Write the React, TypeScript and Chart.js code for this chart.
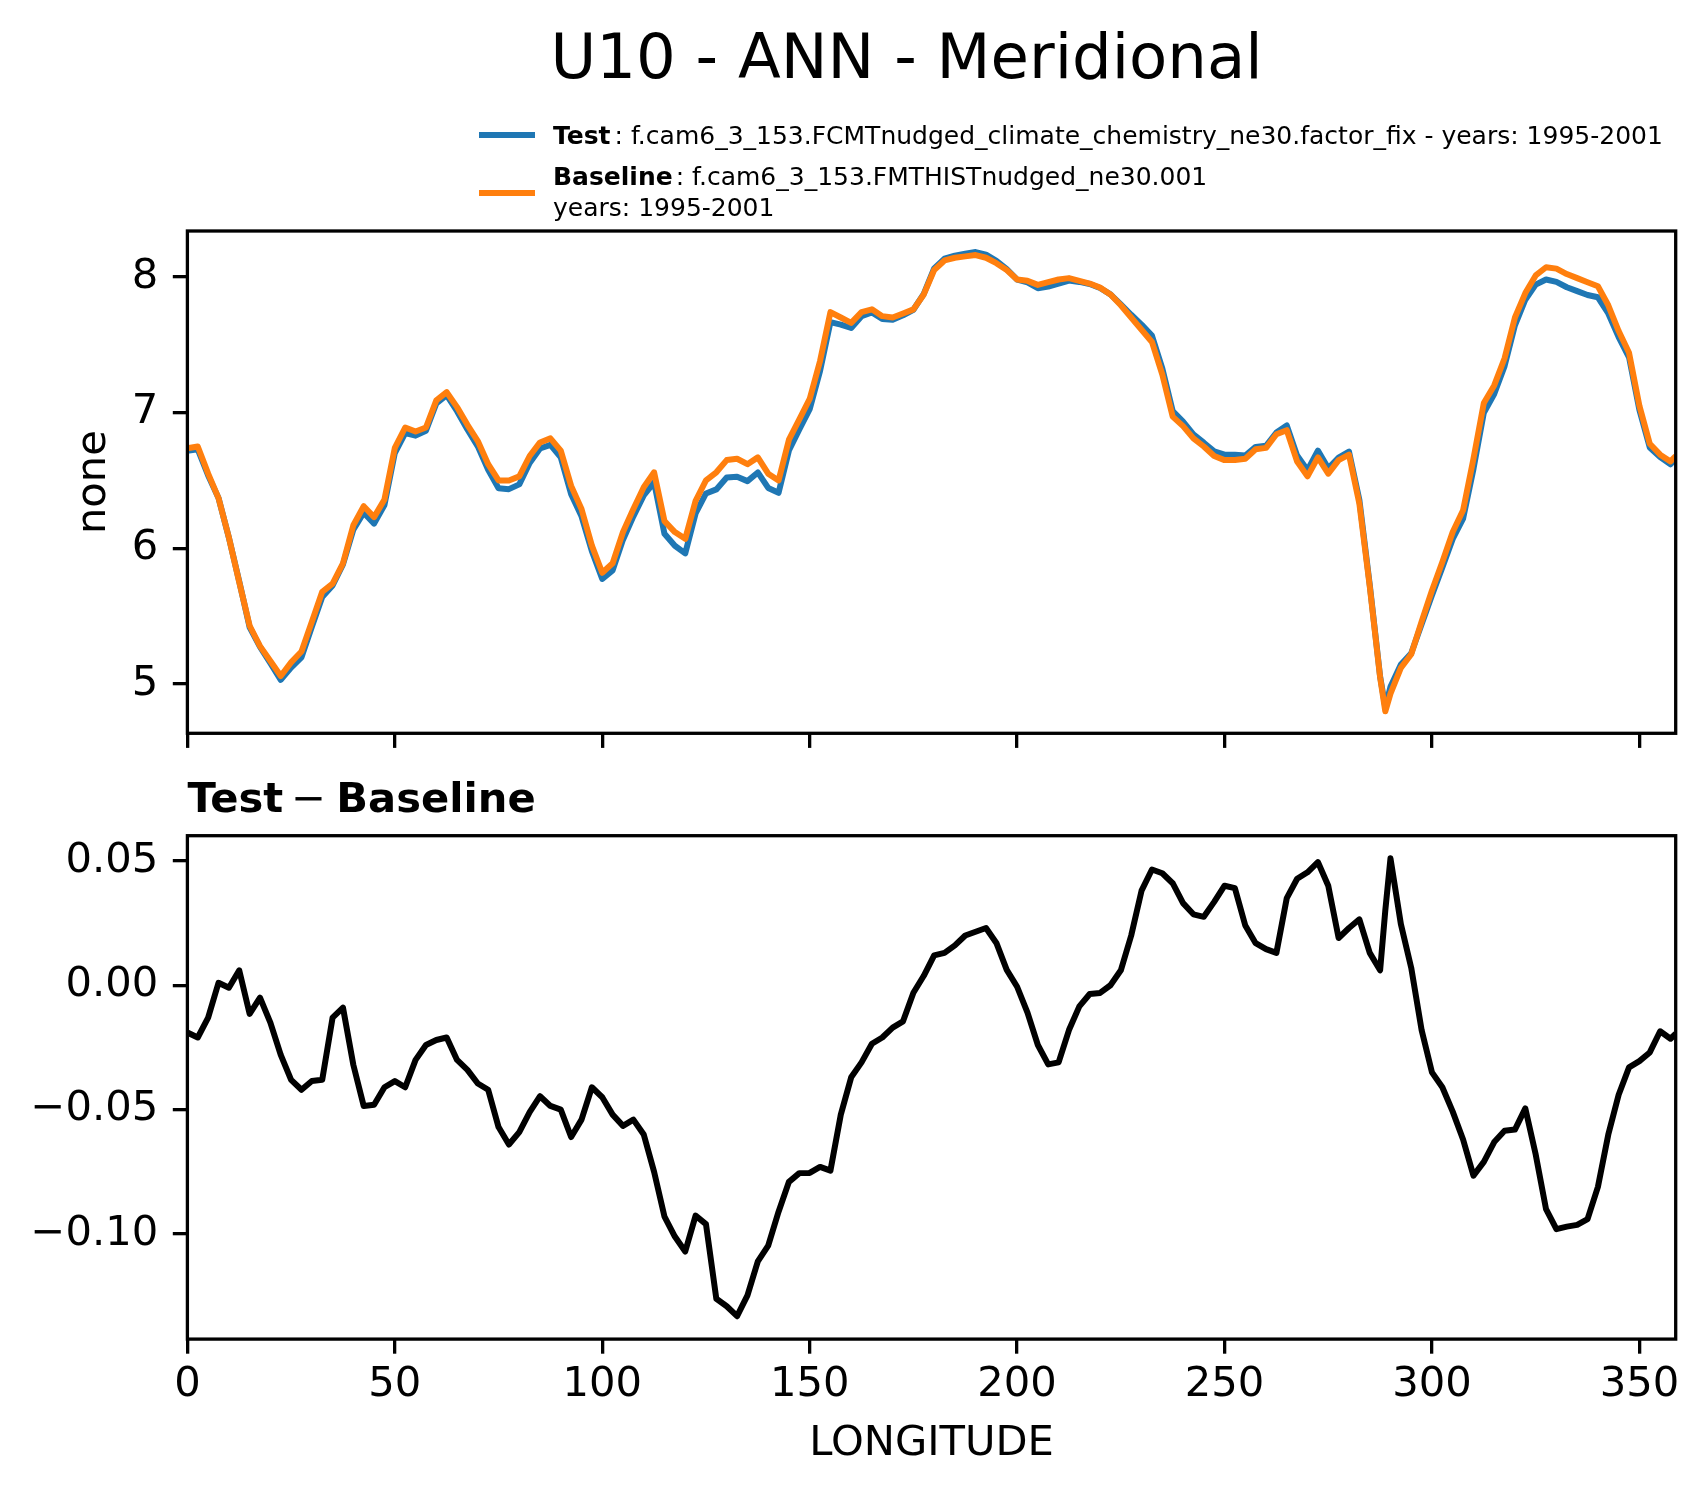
import React, { useEffect, useRef } from "react";
import { Chart, registerables } from "chart.js";

Chart.register(...registerables);

const FONT = '"DejaVu Sans", "Liberation Sans", sans-serif';

// ---------------- data ----------------
const lon = [
  0, 2.5, 5, 7.5, 10, 12.5, 15, 17.5, 20, 22.5,
  25, 27.5, 30, 32.5, 35, 37.5, 40, 42.5, 45, 47.5,
  50, 52.5, 55, 57.5, 60, 62.5, 65, 67.5, 70, 72.5,
  75, 77.5, 80, 82.5, 85, 87.5, 90, 92.5, 95, 97.5,
  100, 102.5, 105, 107.5, 110, 112.5, 115, 117.5, 120, 122.5,
  125, 127.5, 130, 132.5, 135, 137.5, 140, 142.5, 145, 147.5,
  150, 152.5, 155, 157.5, 160, 162.5, 165, 167.5, 170, 172.5,
  175, 177.5, 180, 182.5, 185, 187.5, 190, 192.5, 195, 197.5,
  200, 202.5, 205, 207.5, 210, 212.5, 215, 217.5, 220, 222.5,
  225, 227.5, 230, 232.5, 235, 237.5, 240, 242.5, 245, 247.5,
  250, 252.5, 255, 257.5, 260, 262.5, 265, 267.5, 270, 272.5,
  275, 277.5, 280, 282.5, 285, 287.5, 288.75, 290, 292.5, 295, 297.5,
  300, 302.5, 305, 307.5, 310, 312.5, 315, 317.5, 320, 322.5,
  325, 327.5, 330, 332.5, 335, 337.5, 340, 342.5, 345, 347.5,
  350, 352.5, 355, 357.5, 358.75,
];

const testValues = [
  6.718, 6.729, 6.537, 6.371, 6.079, 5.756, 5.419, 5.275, 5.155, 5.032,
  5.122, 5.198, 5.422, 5.642, 5.727, 5.881, 6.138, 6.262, 6.182, 6.319,
  6.702, 6.849, 6.83, 6.866, 7.068, 7.129, 7.01, 6.876, 6.751, 6.578,
  6.443, 6.436, 6.471, 6.629, 6.735, 6.762, 6.67, 6.399, 6.236, 5.979,
  5.775, 5.838, 6.064, 6.236, 6.39, 6.485, 6.107, 6.019, 5.963, 6.257,
  6.404, 6.434, 6.521, 6.527, 6.495, 6.559, 6.445, 6.409, 6.721, 6.875,
  7.025, 7.307, 7.666, 7.648, 7.623, 7.709, 7.737, 7.689, 7.683, 7.716,
  7.757, 7.874, 8.062, 8.133, 8.156, 8.17, 8.182, 8.163, 8.117, 8.056,
  7.979, 7.959, 7.916, 7.928, 7.949, 7.972, 7.962, 7.947, 7.917, 7.87,
  7.796, 7.72, 7.648, 7.567, 7.325, 7.011, 6.933, 6.839, 6.778, 6.714,
  6.69, 6.689, 6.684, 6.747, 6.755, 6.853, 6.905, 6.683, 6.575, 6.72,
  6.59, 6.669, 6.713, 6.357, 5.733, 5.056, 4.83, 4.981, 5.145, 5.227, 5.442,
  5.655, 5.859, 6.069, 6.218, 6.584, 6.999, 7.137, 7.342, 7.642, 7.831,
  7.942, 7.98, 7.962, 7.923, 7.894, 7.866, 7.849, 7.73, 7.556, 7.407,
  7.02, 6.743, 6.672, 6.619, 6.661,
];

const baselineValues = [
  6.737, 6.75, 6.55, 6.37, 6.08, 5.75, 5.43, 5.28, 5.17, 5.06,
  5.16, 5.24, 5.46, 5.68, 5.74, 5.89, 6.17, 6.31, 6.23, 6.36,
  6.74, 6.89, 6.86, 6.89, 7.09, 7.15, 7.04, 6.91, 6.79, 6.62,
  6.5, 6.5, 6.53, 6.68, 6.78, 6.81, 6.72, 6.46, 6.29, 6.02,
  5.82, 5.89, 6.12, 6.29, 6.45, 6.56, 6.2, 6.12, 6.07, 6.35,
  6.5, 6.56, 6.65, 6.66, 6.62, 6.67, 6.55, 6.5, 6.8, 6.95,
  7.1, 7.38, 7.74, 7.7, 7.66, 7.74, 7.76, 7.71, 7.7, 7.73,
  7.76, 7.87, 8.05, 8.12, 8.14, 8.15, 8.16, 8.14, 8.1, 8.05,
  7.98, 7.97, 7.94, 7.96, 7.98, 7.99, 7.97, 7.95, 7.92, 7.87,
  7.79, 7.7, 7.61, 7.52, 7.28, 6.97, 6.9, 6.81, 6.75, 6.68,
  6.65, 6.65, 6.66, 6.73, 6.74, 6.84, 6.87, 6.64, 6.53, 6.67,
  6.55, 6.65, 6.69, 6.33, 5.72, 5.05, 4.8, 4.93, 5.12, 5.22, 5.46,
  5.69, 5.9, 6.12, 6.28, 6.66, 7.07, 7.2, 7.4, 7.7, 7.88,
  8.01, 8.07, 8.06, 8.02, 7.99, 7.96, 7.93, 7.79, 7.6, 7.44,
  7.05, 6.77, 6.69, 6.64, 6.68,
];

const diffValues = [
  -0.019, -0.021, -0.013, 0.001, -0.001, 0.006, -0.0115, -0.005, -0.015, -0.028,
  -0.038, -0.042, -0.0385, -0.038, -0.013, -0.009, -0.032, -0.0485, -0.048, -0.041,
  -0.0385, -0.041, -0.03, -0.024, -0.022, -0.021, -0.03, -0.034, -0.0395, -0.042,
  -0.057, -0.064, -0.059, -0.051, -0.0446, -0.0485, -0.05, -0.061, -0.054, -0.041,
  -0.045, -0.052, -0.0565, -0.054, -0.06, -0.075, -0.093, -0.101, -0.107, -0.0926,
  -0.096, -0.126, -0.129, -0.133, -0.1246, -0.111, -0.1046, -0.091, -0.079, -0.0755,
  -0.0754, -0.073, -0.0745, -0.052, -0.037, -0.031, -0.0235, -0.021, -0.017, -0.0145,
  -0.003, 0.0038, 0.012, 0.013, 0.016, 0.02, 0.0215, 0.023, 0.017, 0.0062,
  -0.0006, -0.011, -0.024, -0.0318, -0.031, -0.018, -0.0085, -0.0035, -0.0031, 0.0,
  0.006, 0.02, 0.038, 0.0465, 0.045, 0.041, 0.033, 0.0285, 0.0275, 0.0335,
  0.04, 0.039, 0.024, 0.0169, 0.0145, 0.013, 0.035, 0.0428, 0.0454, 0.0495,
  0.04, 0.019, 0.023, 0.0265, 0.013, 0.006, 0.03, 0.051, 0.0246, 0.007, -0.018,
  -0.035, -0.041, -0.0508, -0.062, -0.0765, -0.071, -0.063, -0.0585, -0.058, -0.0495,
  -0.068, -0.09, -0.098, -0.097, -0.0963, -0.094, -0.081, -0.06, -0.044, -0.033,
  -0.0305, -0.027, -0.0185, -0.0215, -0.0195,
];

const xTickValues = [0, 50, 100, 150, 200, 250, 300, 350];
const topYTickValues = [5, 6, 7, 8];
const diffYTickValues = [-0.1, -0.05, 0, 0.05];

const TITLE = "U10 - ANN - Meridional";
const TEST_LABEL = "Test";
const TEST_DESC = ": f.cam6_3_153.FCMTnudged_climate_chemistry_ne30.factor_fix - years: 1995-2001";
const BASE_LABEL = "Baseline";
const BASE_DESC = ": f.cam6_3_153.FMTHISTnudged_ne30.001";
const BASE_YEARS = "years: 1995-2001";
const DIFF_LEFT = "Test";
const DIFF_MINUS = "\u2212";
const DIFF_RIGHT = "Baseline";
const X_TITLE = "LONGITUDE";
const Y_TITLE = "none";

const TEST_COLOR = "#1f77b4";
const BASE_COLOR = "#ff7f0e";

// ---------------- layout constants ----------------
const W = 1708;
const TOP_H = 790;
const BOT_TOP = 765;
const BOT_H = 1496 - BOT_TOP;
const AX_LEFT = 187.4;
const AX_RIGHT = 1675.7;
const TOP_AX_TOP = 231;
const TOP_AX_BOTTOM = 733.3;
const BOT_AX_TOP = 835.7 - BOT_TOP;
const BOT_AX_BOTTOM = 1339.1 - BOT_TOP;
const BOT_X_H = 130;
const TICK_LEN = 14.6;
const SPINE_W = 3.3;
const LINE_W = 6;
const TICK_FONT = 41.67;

const frame = {
  id: "frame",
  afterDatasetsDraw(chart: any) {
    const { ctx, chartArea: a } = chart;
    ctx.save();
    ctx.strokeStyle = "#000";
    ctx.lineWidth = SPINE_W;
    ctx.lineJoin = "miter";
    ctx.strokeRect(a.left, a.top, a.right - a.left, a.bottom - a.top);
    ctx.restore();
  },
};

const headerPlugin = {
  id: "header",
  afterDraw(chart: any) {
    const ctx = chart.ctx as CanvasRenderingContext2D;
    ctx.save();
    ctx.fillStyle = "#000";
    ctx.textBaseline = "alphabetic";
    ctx.textAlign = "center";
    ctx.font = `62.5px ${FONT}`;
    ctx.fillText(TITLE, 906.5, 78);

    // legend
    ctx.textAlign = "left";
    const tx = 553;
    ctx.lineCap = "butt";
    ctx.lineWidth = LINE_W;
    ctx.strokeStyle = TEST_COLOR;
    ctx.beginPath();
    ctx.moveTo(479, 135);
    ctx.lineTo(535, 135);
    ctx.stroke();
    ctx.strokeStyle = BASE_COLOR;
    ctx.beginPath();
    ctx.moveTo(479, 193);
    ctx.lineTo(535, 193);
    ctx.stroke();

    ctx.font = `bold 25px ${FONT}`;
    ctx.fillText(TEST_LABEL, tx, 144);
    const w1 = ctx.measureText(TEST_LABEL).width;
    ctx.fillText(BASE_LABEL, tx, 185);
    const w2 = ctx.measureText(BASE_LABEL).width;
    ctx.font = `25px ${FONT}`;
    ctx.fillText(TEST_DESC, tx + w1 + 4, 144);
    ctx.fillText(BASE_DESC, tx + w2 + 3, 185);
    ctx.fillText(BASE_YEARS, tx, 216);
    ctx.restore();
  },
};

const subTitlePlugin = {
  id: "subtitle",
  afterDraw(chart: any) {
    const ctx = chart.ctx as CanvasRenderingContext2D;
    const base = 812 - BOT_TOP;
    ctx.save();
    ctx.fillStyle = "#000";
    ctx.textBaseline = "alphabetic";
    ctx.textAlign = "left";
    ctx.font = `bold 41.67px ${FONT}`;
    ctx.fillText(DIFF_LEFT, AX_LEFT, base);
    const w = ctx.measureText(DIFF_LEFT).width;
    const mx = AX_LEFT + w + 25.4;
    ctx.font = `41.67px ${FONT}`;
    ctx.textAlign = "center";
    ctx.fillText(DIFF_MINUS, mx, base);
    ctx.font = `bold 41.67px ${FONT}`;
    ctx.textAlign = "left";
    ctx.fillText(DIFF_RIGHT, mx + 27.7, base);
    ctx.restore();
  },
};

function fmtDiff(v: number) {
  if (Math.abs(v) < 1e-9) return "0.00";
  const s = Math.abs(v).toFixed(2);
  return v < 0 ? "\u2212" + s : s;
}

function gridOpts() {
  return {
    display: true,
    drawOnChartArea: false,
    drawTicks: true,
    tickLength: TICK_LEN,
    tickWidth: SPINE_W,
    tickColor: "#000",
    color: "#000",
    lineWidth: SPINE_W,
  };
}

function makeScales(opts: {
  ymin: number;
  ymax: number;
  yTicks: number[];
  yFmt: (v: number) => string;
  showX: boolean;
  xHeight: number;
  yTitle?: string;
}) {
  return {
    x: {
      type: "linear" as const,
      min: 0,
      max: 358.75,
      afterBuildTicks: (s: any) => {
        s.ticks = xTickValues.map((v) => ({ value: v }));
      },
      afterFit: (s: any) => {
        s.height = opts.xHeight;
      },
      grid: gridOpts(),
      border: { display: false },
      ticks: {
        display: opts.showX,
        autoSkip: false,
        maxRotation: 0,
        minRotation: 0,
        color: "#000",
        padding: 6.9,
        font: { family: FONT, size: TICK_FONT },
        callback: (v: any) => String(v),
      },
      title: {
        display: opts.showX,
        text: X_TITLE,
        color: "#000",
        font: { family: FONT, size: TICK_FONT },
        padding: { top: 0, bottom: 0 },
      },
    },
    y: {
      type: "linear" as const,
      min: opts.ymin,
      max: opts.ymax,
      afterBuildTicks: (s: any) => {
        s.ticks = opts.yTicks.map((v) => ({ value: v }));
      },
      afterFit: (s: any) => {
        s.width = AX_LEFT;
      },
      grid: gridOpts(),
      border: { display: false },
      ticks: {
        color: "#000",
        padding: TICK_LEN,
        font: { family: FONT, size: TICK_FONT },
        callback: (v: any) => opts.yFmt(Number(v)),
      },
      title: {
        display: !!opts.yTitle,
        text: opts.yTitle || "",
        color: "#000",
        font: { family: FONT, size: TICK_FONT },
        padding: { top: 69.6, bottom: 0 },
      },
    },
  };
}

export default function App() {
  const topRef = useRef<HTMLCanvasElement>(null);
  const botRef = useRef<HTMLCanvasElement>(null);

  useEffect(() => {
    const common = {
      responsive: false,
      maintainAspectRatio: false,
      animation: false as const,
      devicePixelRatio: 1,
      events: [] as any[],
    };

    const top = new Chart(topRef.current!, {
      type: "line",
      data: {
        datasets: [
          {
            label: TEST_LABEL,
            data: lon.map((x, i) => ({ x, y: testValues[i] })),
            borderColor: TEST_COLOR,
            borderWidth: LINE_W,
            pointRadius: 0,
            tension: 0,
            fill: false,
            borderJoinStyle: "round",
            order: 2,
          },
          {
            label: BASE_LABEL,
            data: lon.map((x, i) => ({ x, y: baselineValues[i] })),
            borderColor: BASE_COLOR,
            borderWidth: LINE_W,
            pointRadius: 0,
            tension: 0,
            fill: false,
            borderJoinStyle: "round",
            order: 1,
          },
        ],
      },
      options: {
        ...common,
        layout: {
          padding: { left: 0, right: W - AX_RIGHT, top: TOP_AX_TOP, bottom: 0 },
        },
        plugins: { legend: { display: false }, tooltip: { enabled: false }, title: { display: false } },
        scales: makeScales({
          ymin: 4.638,
          ymax: 8.337,
          yTicks: topYTickValues,
          yFmt: (v) => String(v),
          showX: false,
          xHeight: TOP_H - TOP_AX_BOTTOM,
          yTitle: Y_TITLE,
        }),
      } as any,
      plugins: [frame, headerPlugin],
    });

    const bot = new Chart(botRef.current!, {
      type: "line",
      data: {
        datasets: [
          {
            label: "Test - Baseline",
            data: lon.map((x, i) => ({ x, y: diffValues[i] })),
            borderColor: "#000",
            borderWidth: LINE_W,
            pointRadius: 0,
            tension: 0,
            fill: false,
            borderJoinStyle: "round",
          },
        ],
      },
      options: {
        ...common,
        layout: {
          padding: {
            left: 0,
            right: W - AX_RIGHT,
            top: BOT_AX_TOP,
            bottom: BOT_H - BOT_AX_BOTTOM - BOT_X_H,
          },
        },
        plugins: { legend: { display: false }, tooltip: { enabled: false }, title: { display: false } },
        scales: makeScales({
          ymin: -0.1422,
          ymax: 0.0601,
          yTicks: diffYTickValues,
          yFmt: fmtDiff,
          showX: true,
          xHeight: BOT_X_H,
        }),
      } as any,
      plugins: [frame, subTitlePlugin],
    });

    return () => {
      top.destroy();
      bot.destroy();
    };
  }, []);

  return (
    <div
      style={{
        position: "absolute",
        left: 0,
        top: 0,
        width: W,
        height: 1496,
        background: "#fff",
        overflow: "hidden",
      }}
    >
      <canvas
        ref={topRef}
        width={W}
        height={TOP_H}
        style={{ position: "absolute", left: 0, top: 0, width: W, height: TOP_H, display: "block" }}
      />
      <canvas
        ref={botRef}
        width={W}
        height={BOT_H}
        style={{ position: "absolute", left: 0, top: BOT_TOP, width: W, height: BOT_H, display: "block" }}
      />
    </div>
  );
}
